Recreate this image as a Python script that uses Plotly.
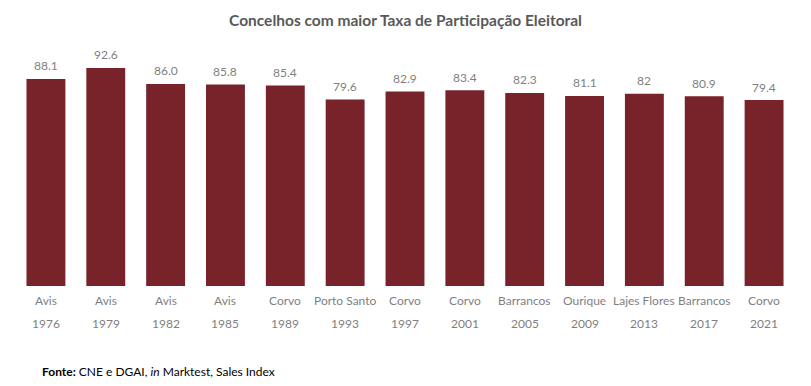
import plotly.graph_objects as go

places = ["Avis", "Avis", "Avis", "Avis", "Corvo", "Porto Santo", "Corvo", "Corvo",
          "Barrancos", "Ourique", "Lajes Flores", "Barrancos", "Corvo"]
years = ["1976", "1979", "1982", "1985", "1989", "1993", "1997", "2001",
         "2005", "2009", "2013", "2017", "2021"]
values = [88.1, 92.6, 86.0, 85.8, 85.4, 79.6, 82.9, 83.4, 82.3, 81.1, 82.0, 80.9, 79.4]
value_labels = ["88.1", "92.6", "86.0", "85.8", "85.4", "79.6", "82.9", "83.4",
                "82.3", "81.1", "82", "80.9", "79.4"]

cats = [f"{p} {y}" for p, y in zip(places, years)]
FONT = "Lato, Calibri, Carlito, sans-serif"
GRAY = "#7f7f7f"

fig = go.Figure(go.Bar(
    x=cats, y=values,
    marker=dict(color="#78222a", line=dict(width=0)),
    hoverinfo="skip",
))

annotations = []
for c, v, lbl, p, y in zip(cats, values, value_labels, places, years):
    annotations.append(dict(x=c, y=v, xref="x", yref="y", text=lbl, showarrow=False,
                            yanchor="middle", yshift=13,
                            font=dict(family=FONT, size=12, color=GRAY)))
    annotations.append(dict(x=c, y=0, xref="x", yref="paper", text=p, showarrow=False,
                            yanchor="middle", yshift=-14.5,
                            font=dict(family=FONT, size=12, color=GRAY)))
    annotations.append(dict(x=c, y=0, xref="x", yref="paper", text=y, showarrow=False,
                            yanchor="middle", yshift=-37.5,
                            font=dict(family=FONT, size=12, color=GRAY)))
annotations.append(dict(x=(40 - 16) / 778, y=(285.7 - 371) / 235.7, xref="paper", yref="paper",
                        xanchor="left", yanchor="middle", showarrow=False,
                        text="<b>Fonte:</b> CNE e DGAI, <i>in</i> Marktest, Sales Index",
                        font=dict(family=FONT, size=12, color="#000000")))

fig.update_layout(
    width=811, height=386,
    margin=dict(l=16, r=17, t=50, b=100),
    paper_bgcolor="white", plot_bgcolor="white",
    title=dict(text="<b>Concelhos com maior Taxa de Participação Eleitoral</b>",
               x=0.5, xanchor="center", y=1 - 21 / 386, yref="container", yanchor="middle",
               font=dict(family=FONT, size=15.5, color="#595959")),
    bargap=0.35,
    xaxis=dict(showticklabels=False, showgrid=False, showline=False, zeroline=False, ticks=""),
    yaxis=dict(range=[2.8, 100], visible=False),
    annotations=annotations,
    showlegend=False,
)

fig.write_html("out.html", config={"displayModeBar": False},
               post_script="document.body.style.margin='0';document.body.style.overflow='hidden';")
